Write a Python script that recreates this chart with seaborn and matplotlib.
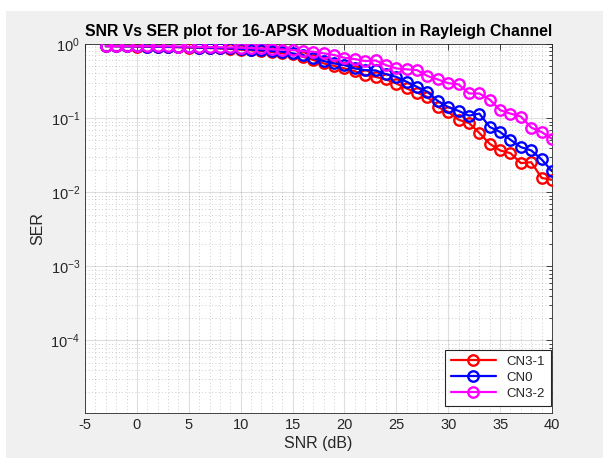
import numpy as np
import pandas as pd
import matplotlib
matplotlib.use("Agg")
import matplotlib.pyplot as plt
import matplotlib.ticker as mticker
from matplotlib.patches import Rectangle
import seaborn as sns

# SNR grid in dB
snr_db = list(range(-3, 41))

# Simulated symbol error rates
ser_cn3_1 = [0.935, 0.93, 0.93, 0.925, 0.92, 0.915, 0.91, 0.905, 0.895, 0.89,
             0.88, 0.87, 0.855, 0.84, 0.82, 0.80, 0.78,
             0.75, 0.725, 0.673, 0.607, 0.547, 0.508, 0.468, 0.43, 0.38, 0.36,
             0.332, 0.293, 0.251, 0.22, 0.193, 0.141, 0.121, 0.095, 0.086,
             0.063, 0.045, 0.0366, 0.0336, 0.0247, 0.0254, 0.0156, 0.0147]
ser_cn0 = [0.935, 0.935, 0.93, 0.93, 0.925, 0.92, 0.915, 0.91, 0.905, 0.895,
           0.89, 0.88, 0.87, 0.855, 0.84, 0.82, 0.80,
           0.787, 0.748, 0.71, 0.64, 0.589, 0.547, 0.519, 0.468, 0.444, 0.44,
           0.392, 0.36, 0.309, 0.264, 0.226, 0.17, 0.141, 0.125, 0.108,
           0.115, 0.076, 0.065, 0.051, 0.0406, 0.0366, 0.0277, 0.0192]
ser_cn3_2 = [0.94, 0.94, 0.94, 0.935, 0.935, 0.93, 0.93, 0.925, 0.92, 0.915,
             0.91, 0.905, 0.90, 0.89, 0.88, 0.87, 0.85,
             0.84, 0.83, 0.80, 0.787, 0.748, 0.71, 0.652, 0.626, 0.589, 0.60,
             0.519, 0.468, 0.455, 0.444, 0.37, 0.332, 0.296, 0.285, 0.215,
             0.215, 0.178, 0.128, 0.115, 0.105, 0.0745, 0.0648, 0.0527]

series_names = ["CN3-1", "CN0", "CN3-2"]
series_colors = ["#ff0000", "#0000ff", "#ff00ff"]

df = pd.DataFrame({
    "SNR": snr_db * 3,
    "SER": ser_cn3_1 + ser_cn0 + ser_cn3_2,
    "Case": sum([[n] * len(snr_db) for n in series_names], []),
})

sns.set_style("white")
plt.rcParams["font.family"] = ["Liberation Sans", "DejaVu Sans"]
plt.rcParams["mathtext.fontset"] = "custom"
plt.rcParams["mathtext.rm"] = "Liberation Sans"
plt.rcParams["mathtext.it"] = "Liberation Sans:italic"
plt.rcParams["mathtext.bf"] = "Liberation Sans:bold"
plt.rcParams["axes.unicode_minus"] = False

W, H = 603, 458
fig = plt.figure(figsize=(W / 100, H / 100), dpi=100, facecolor="white")
fig.patches.append(Rectangle((6 / W, 0), 1, 1 - 11 / H, transform=fig.transFigure,
                             facecolor="#f0f0f0", edgecolor="none", zorder=-10))
ax = fig.add_axes([85 / W, 1 - 413 / H, (552 - 85) / W, (413 - 44) / H])
ax.set_facecolor("white")

dark = "#262626"
for name, color in zip(series_names, series_colors):
    sub = df[df["Case"] == name]
    sns.lineplot(data=sub, x="SNR", y="SER", ax=ax, color=color, label=name,
                 linewidth=1.6, marker="o", markersize=7.5,
                 markerfacecolor="none", markeredgecolor=color,
                 markeredgewidth=1.7, zorder=3)

ax.set_yscale("log")
ax.set_xlim(-5, 40)
ax.set_ylim(1.05e-5, 1)
ax.set_xticks(range(-5, 41, 5))
ax.xaxis.set_minor_locator(mticker.MultipleLocator(1))
ax.set_yticks([1e-4, 1e-3, 1e-2, 1e-1, 1])
ax.yaxis.set_major_formatter(mticker.LogFormatterSciNotation())
ax.yaxis.set_minor_locator(mticker.LogLocator(base=10, subs=np.arange(2, 10), numticks=20))
ax.yaxis.set_minor_formatter(mticker.NullFormatter())

ax.grid(True, which="major", color=dark, alpha=0.15, linewidth=0.8)
ax.grid(True, which="minor", color=dark, alpha=0.3, linewidth=0.6, linestyle=(0, (1, 3)))
ax.set_axisbelow(True)

ax.tick_params(which="both", direction="in", top=True, right=True, colors=dark,
               labelsize=10.5, width=0.6)
ax.tick_params(axis="x", which="minor", length=0)
ax.tick_params(which="major", length=4)
ax.tick_params(axis="y", which="minor", length=2.5)
for s in ax.spines.values():
    s.set_color(dark)
    s.set_linewidth(0.6)

ax.set_xlabel("SNR (dB)", fontsize=11.5, color=dark, labelpad=3)
ax.set_ylabel("SER", fontsize=11.5, color=dark, labelpad=4)
ax.set_title("SNR Vs SER plot for 16-APSK Modualtion in Rayleigh Channel",
             fontsize=11.3, fontweight="bold", color="black", pad=6)

leg = ax.legend(loc="lower right", bbox_to_anchor=(1 - 1.5 / 467, 7 / 369),
                fontsize=9.5, frameon=True, fancybox=False,
                framealpha=1, edgecolor=dark, borderaxespad=0,
                handlelength=3.4, labelspacing=0.3, borderpad=0.45)
leg.get_frame().set_linewidth(0.8)
for t in leg.get_texts():
    t.set_color(dark)

fig.savefig("out.png", dpi=100, facecolor=fig.get_facecolor())
